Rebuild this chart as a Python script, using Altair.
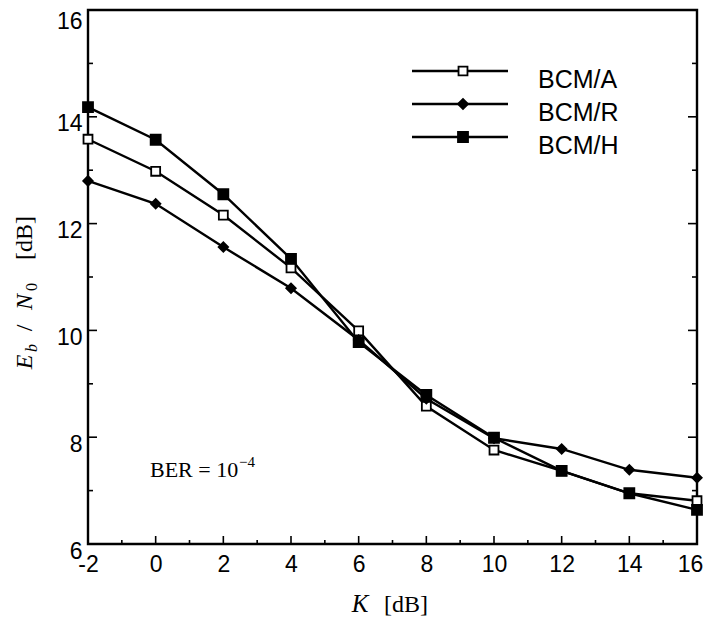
import altair as alt
import pandas as pd

# ---- data ----
K = [-2, 0, 2, 4, 6, 8, 10, 12, 14, 16]
series_names = ["BCM/A", "BCM/R", "BCM/H"]
bcm_a = [13.58, 12.98, 12.16, 11.17, 9.99, 8.58, 7.76, 7.37, 6.95, 6.81]
bcm_r = [12.80, 12.37, 11.56, 10.79, 9.82, 8.72, 7.98, 7.78, 7.39, 7.24]
bcm_h = [14.18, 13.57, 12.55, 11.34, 9.78, 8.79, 7.99, 7.37, 6.95, 6.64]
x_major = [-2, 0, 2, 4, 6, 8, 10, 12, 14, 16]
x_minor = [-1, 1, 3, 5, 7, 9, 11, 13, 15]
y_major = [6, 8, 10, 12, 14, 16]
y_minor = [7, 9, 11, 13, 15]

shapes = ["square", "diamond", "square"]
fills = ["white", "black", "black"]
sizes = [80, 100, 100]

W, H = 609, 534
SANS = "Liberation Sans"
SERIF = "Liberation Serif"

rows = []
for name, vals in zip(series_names, [bcm_a, bcm_r, bcm_h]):
    for k, v in zip(K, vals):
        rows.append({"K": k, "v": v, "series": name})
df = pd.DataFrame(rows)

xs = alt.Scale(domain=[-2, 16], nice=False, zero=False)
ys = alt.Scale(domain=[6, 16], nice=False, zero=False)

x_axis = alt.Axis(values=x_major, title=None, ticks=False, tickSize=0, domain=False, grid=False,
                  labelFont=SANS, labelFontSize=23, labelColor="black", labelPadding=9,
                  labelFlush=False, labelOverlap=False, labelExpr="'' + datum.value",
                  labelOffset=alt.condition("datum.value == 16", alt.value(-7), alt.value(0)))
y_axis = alt.Axis(values=y_major, title=None, ticks=False, tickSize=0, domain=False, grid=False,
                  labelFont=SANS, labelFontSize=23, labelColor="black", labelPadding=6,
                  labelOffset=alt.condition("datum.value == 16", alt.value(11), alt.value(7)),
                  labelFlush=False, labelOverlap=False, labelExpr="'' + datum.value")

lines = alt.Chart(df).mark_line(color="black", strokeWidth=2.4).encode(
    x=alt.X("K:Q", scale=xs, axis=x_axis),
    y=alt.Y("v:Q", scale=ys, axis=y_axis),
    detail="series:N",
)

points = alt.Chart(df).mark_point(filled=True, stroke="black", strokeWidth=1.8, opacity=1).encode(
    x=alt.X("K:Q", scale=xs, axis=x_axis),
    y=alt.Y("v:Q", scale=ys, axis=y_axis),
    shape=alt.Shape("series:N", scale=alt.Scale(domain=series_names, range=shapes), legend=None),
    fill=alt.Fill("series:N", scale=alt.Scale(domain=series_names, range=fills), legend=None),
    size=alt.Size("series:N", scale=alt.Scale(domain=series_names, range=sizes), legend=None),
)

def xticks(vals, length):
    return alt.Chart(pd.DataFrame({"K": vals})).mark_rule(color="black", strokeWidth=1.6).encode(
        x=alt.X("K:Q", scale=xs, axis=x_axis), y=alt.value(H - length), y2=alt.value(H))

def yticks(vals, x0, x1):
    return alt.Chart(pd.DataFrame({"v": vals})).mark_rule(color="black", strokeWidth=1.6).encode(
        y=alt.Y("v:Q", scale=ys, axis=y_axis), x=alt.value(x0), x2=alt.value(x1))

tick_layers = [
    xticks(x_major, 8), xticks(x_minor, 4),
    yticks(y_major, 0, 9), yticks(y_minor, 0, 5),
    yticks(y_major, W, W - 9), yticks(y_minor, W, W - 5),
]

one = pd.DataFrame({"a": [0]})

def txt(text, x, y, size, font=SERIF, style="normal", align="center", angle=0, baseline="alphabetic"):
    kw = dict(text=text, font=font, fontSize=size, fontStyle=style, align=align,
              baseline=baseline, color="black")
    if angle:
        kw["angle"] = angle
    return alt.Chart(one).mark_text(**kw).encode(x=alt.value(x), y=alt.value(y))

# legend (drawn by hand)
legend_layers = []
for i, name in enumerate(series_names):
    ly = 61 + 33 * i
    legend_layers.append(
        alt.Chart(one).mark_rule(color="black", strokeWidth=2.4).encode(
            x=alt.value(324), x2=alt.value(420), y=alt.value(ly)))
    legend_layers.append(
        alt.Chart(one).mark_point(filled=True, stroke="black", strokeWidth=1.8, opacity=1,
                                  shape=shapes[i], fill=fills[i], size=sizes[i]).encode(
            x=alt.value(375), y=alt.value(ly)))
    legend_layers.append(txt(name, 450, ly + 9, 25, font=SANS, align="left", baseline="middle"))

# axis titles and annotation
title_layers = [
    txt("K", 272, 602, 25, style="italic"),
    txt("[dB]", 318, 602, 24),
    txt("E", -56, 352, 24, style="italic", angle=270),
    txt("b", -51, 338, 16, style="italic", angle=270),
    txt("/", -56, 318, 24, angle=270),
    txt("N", -56, 292, 24, style="italic", angle=270),
    txt("0", -51, 277, 16, angle=270),
    txt("[dB]", -56, 228, 24, angle=270),
    txt("BER = 10", 62, 467, 22, align="left"),
    txt("\u22124", 151, 457, 15, align="left"),
]

chart = alt.layer(lines, points, *tick_layers, *legend_layers, *title_layers).properties(
    width=W, height=H,
    padding={"left": 80, "top": 2, "right": 6, "bottom": 75},
    autosize=alt.AutoSizeParams(type="none"),
    background="white",
).configure_view(stroke="black", strokeWidth=2.4)

chart.save("out.html", embed_options={"renderer": "svg", "actions": False})
